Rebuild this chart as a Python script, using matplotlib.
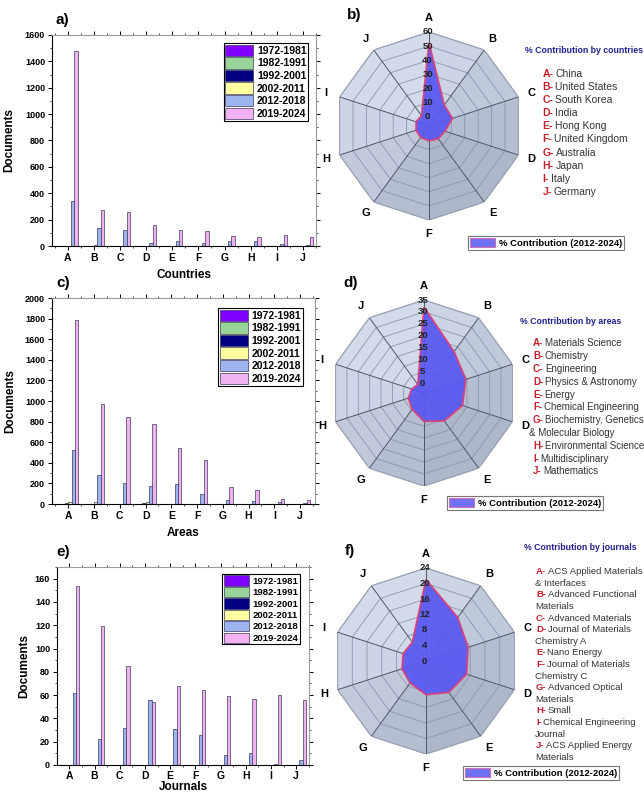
import numpy as np
import matplotlib.pyplot as plt
from matplotlib.patches import Patch
from matplotlib.ticker import MultipleLocator
from matplotlib.colors import to_rgb

plt.rcParams['font.family'] = ['Liberation Sans', 'DejaVu Sans']

W, H = 644, 793

letters = list("ABCDEFGHIJ")
periods = ["1972-1981", "1982-1991", "1992-2001", "2002-2011", "2012-2018", "2019-2024"]
period_colors = ["#8000ff", "#98d498", "#000080", "#ffffa0", "#9db4f0", "#f2b2f2"]

# a) documents per country (A..J) for each period
cty_1972 = [0, 0, 0, 0, 0, 0, 0, 0, 0, 0]
cty_1982 = [0, 0, 0, 0, 0, 0, 0, 0, 0, 0]
cty_1992 = [3, 3, 3, 0, 0, 2, 3, 2, 0, 2]
cty_2002 = [2, 10, 3, 3, 2, 3, 3, 3, 3, 3]
cty_2012 = [340, 135, 120, 25, 35, 25, 35, 40, 15, 10]
cty_2019 = [1480, 270, 255, 160, 118, 110, 78, 65, 85, 72]

# c) documents per subject area
area_1972 = [0, 0, 0, 0, 0, 0, 0, 0, 0, 0]
area_1982 = [0, 0, 0, 0, 0, 0, 0, 0, 0, 0]
area_1992 = [10, 0, 0, 10, 0, 0, 0, 0, 0, 0]
area_2002 = [15, 15, 2, 15, 0, 2, 3, 3, 3, 2]
area_2012 = [520, 280, 200, 170, 195, 95, 35, 25, 15, 10]
area_2019 = [1790, 975, 845, 775, 540, 425, 165, 135, 50, 35]

# e) documents per journal
jrn_1972 = [0, 0, 0, 0, 0, 0, 0, 0, 0, 0]
jrn_1982 = [0, 0, 0, 0, 0, 0, 0, 0, 0, 0]
jrn_1992 = [0, 0, 0, 0, 0, 0, 0, 0, 0, 0]
jrn_2002 = [0, 0, 0, 0, 0, 0, 0, 0, 0, 0]
jrn_2012 = [62, 22, 32, 56, 31, 26, 9, 10, 1, 4]
jrn_2019 = [154, 119, 85, 54, 68, 64, 59, 57, 60, 56]

# b), d), f) % contribution 2012-2024
cty_pct = [52.4, 11.7, 10.8, 5.3, 4.4, 3.9, 3.3, 3.0, 2.9, 2.4]
area_pct = [32, 17.5, 14.5, 13, 10.5, 8, 4.5, 3, 1.5, 0.5]
jrn_pct = [21, 13.9, 11.4, 11, 10, 8.7, 7, 6.5, 6.2, 6]

cty_names = ["China", "United States", "South Korea", "India", "Hong Kong",
             "United Kingdom", "Australia", "Japan", "Italy", "Germany"]
area_names = ["Materials Science", "Chemistry", "Engineering", "Physics & Astronomy",
              "Energy", "Chemical Engineering", "Biochemistry, Genetics\n& Molecular Biology",
              "Environmental Science", "Multidisciplinary", "Mathematics"]
jrn_names = ["ACS Applied Materials\n& Interfaces", "Advanced Functional\nMaterials",
             "Advanced Materials", "Journal of Materials\nChemistry A", "Nano Energy",
             "Journal of Materials\nChemistry C", "Advanced Optical\nMaterials", "Small",
             "Chemical Engineering\nJournal", "ACS Applied Energy\nMaterials"]

fig = plt.figure(figsize=(W / 100, H / 100), dpi=100)


def fx(x):
    return x / W


def fy(y):
    return 1 - y / H


def bar_panel(left, top, right, bottom, series, ymax, major, minor, xlim, xlabel,
              ylab_x, leg_anchor, leg_fs, tag, tag_xy, xlab_pad=4, xtick_pad=2):
    ax = fig.add_axes([fx(left), fy(bottom), fx(right - left), (bottom - top) / H])
    x = np.arange(len(letters))
    w = 0.13
    for i, (vals, lab, col) in enumerate(zip(series, periods, period_colors)):
        ax.bar(x + (i - 2.5) * w, vals, width=w, color=col, edgecolor="#3a3a5a",
               linewidth=0.5, label=lab)
    ax.set_xlim(*xlim)
    ax.set_ylim(0, ymax)
    ax.set_xticks(x)
    ax.set_xticklabels(letters, fontsize=7.5, fontweight="bold")
    ax.xaxis.set_minor_locator(MultipleLocator(0.5))
    ax.yaxis.set_major_locator(MultipleLocator(major))
    ax.yaxis.set_minor_locator(MultipleLocator(minor))
    for lbl in ax.get_yticklabels():
        lbl.set_fontsize(6.5)
        lbl.set_fontweight("bold")
    ax.tick_params(which="major", length=3, width=0.7, pad=2)
    ax.tick_params(axis="x", which="major", pad=xtick_pad)
    ax.tick_params(which="minor", length=1.5, width=0.5)
    ax.tick_params(top=True, right=True, which="both", direction="out")
    for s in ["top", "right"]:
        ax.spines[s].set_color("#9a9a9a")
    for s in ["left", "bottom"]:
        ax.spines[s].set_linewidth(0.8)
    ax.set_ylabel("Documents", fontsize=8.5, fontweight="bold")
    ax.yaxis.set_label_coords(ylab_x, 0.5)
    ax.set_xlabel(xlabel, fontsize=8.5, fontweight="bold", labelpad=xlab_pad)
    leg = ax.legend(loc="upper right", bbox_to_anchor=leg_anchor, fancybox=False,
                    edgecolor="black", framealpha=1, borderpad=0.15, labelspacing=0.12,
                    handlelength=2.7, handleheight=1.3, handletextpad=0.35,
                    borderaxespad=0, prop={"weight": "bold", "size": leg_fs})
    leg.get_frame().set_linewidth(0.8)
    fig.text(fx(tag_xy[0]), fy(tag_xy[1]), tag, fontsize=11, fontweight="bold",
             ha="left", va="center")
    return ax


bar_panel(52, 35, 316, 246, [cty_1972, cty_1982, cty_1992, cty_2002, cty_2012, cty_2019],
          1600, 200, 100, (-0.6, 9.5), "Countries", -0.14, (0.97, 0.962), 7.5, "a)", (56, 20))
bar_panel(52, 298, 315, 504, [area_1972, area_1982, area_1992, area_2002, area_2012, area_2019],
          2000, 200, 100, (-0.63, 9.58), "Areas", -0.137, (0.954, 0.951), 7.5, "c)", (56, 283))
bar_panel(57, 567, 309, 765, [jrn_1972, jrn_1982, jrn_1992, jrn_2002, jrn_2012, jrn_2019],
          170, 20, 10, (-0.49, 9.51), "Journals", -0.107, (0.964, 0.965), 6.8, "e)", (56, 552),
          xlab_pad=0, xtick_pad=1)

light = np.array(to_rgb("#d4dcec"))
dark = np.array(to_rgb("#adb6c9"))


def radar_panel(cx, cy, R, pct, rmin, rmax, ring_vals, tag, header, header_xy, names,
                item_x, item_y, step, cont_x, list_fs, leg_xy):
    ax = fig.add_axes([fx(cx - R), fy(cy + R), 2 * R / W, 2 * R / H], projection="polar")
    ax.set_theta_zero_location("N")
    ax.set_theta_direction(-1)
    ax.set_ylim(rmin, rmax)
    ax.set_axis_off()
    n = len(letters)
    ang = np.linspace(0, 2 * np.pi, n + 1)

    # shaded facets of the decagon
    for k in range(n):
        mid = (ang[k] + ang[k + 1]) / 2
        t = (np.dot([np.sin(mid), np.cos(mid)], [-0.6, 0.8]) + 1) / 2
        col = dark + (light - dark) * t
        ax.fill([ang[k], ang[k], ang[k + 1]], [rmin, rmax, rmax], color=col,
                linewidth=0, zorder=1)
    for v in ring_vals:
        ax.plot(ang, [v] * (n + 1), color="#8e97aa", lw=0.6, zorder=2)
    ax.plot(ang, [rmax] * (n + 1), color="#9aa3b6", lw=0.8, zorder=2)
    for a in ang[:-1]:
        ax.plot([a, a], [rmin, rmax], color="#4e5566", lw=0.7, zorder=2)

    vals = list(pct) + [pct[0]]
    ax.fill(ang, vals, facecolor="#5a5af2", edgecolor="#d8407c", lw=1.3,
            alpha=0.95, zorder=3)

    for v in ring_vals:
        ax.annotate(str(v), xy=(0, v), xytext=(-1, 0), textcoords="offset points",
                    ha="center", va="center", fontsize=6.8, fontweight="bold",
                    color="#222222", zorder=5)
    r_lab = rmin + 1.15 * (rmax - rmin)
    for a, l in zip(ang[:-1], letters):
        ax.text(a, r_lab, l, ha="center", va="center", fontsize=8, fontweight="bold")

    fig.text(fx(cx - R + 12), fy(cy - R - 10), tag, fontsize=11, fontweight="bold",
             ha="left", va="bottom")
    fig.text(fx(header_xy[0]), fy(header_xy[1]), header, fontsize=6.3, fontweight="bold",
             color="#1f1f8f", ha="left", va="center")

    y = item_y
    for l, name in zip(letters, names):
        parts = name.split("\n")
        t = fig.text(fx(item_x), fy(y), l + "-", fontsize=list_fs, fontweight="bold",
                     color="#c8202c", ha="left", va="center")
        ax.annotate(parts[0], xy=(1, 0.5), xycoords=t, xytext=(1.2, 0),
                    textcoords="offset points", ha="left", va="center",
                    fontsize=list_fs, color="#333333", annotation_clip=False)
        y += step
        for extra in parts[1:]:
            fig.text(fx(cont_x), fy(y), extra, fontsize=list_fs, color="#333333",
                     ha="left", va="center")
            y += step

    leg = fig.legend(handles=[Patch(facecolor="#7070f2", edgecolor="#d070b0", lw=0.8)],
                     labels=["% Contribution (2012-2024)"], loc="lower left",
                     bbox_to_anchor=(fx(leg_xy[0]), fy(leg_xy[1])), fancybox=False,
                     edgecolor="#777777", framealpha=1, borderpad=0.25,
                     handlelength=2.6, handleheight=1.1, handletextpad=0.4,
                     borderaxespad=0, prop={"weight": "bold", "size": 6.8})
    leg.get_frame().set_linewidth(0.8)
    return ax


radar_panel(429, 126, 94, cty_pct, -6.67, 60, [0, 10, 20, 30, 40, 50, 60], "b)",
            "% Contribution by countries", (525, 50.7), cty_names, 542.7, 74, 13.1,
            534, 7.5, (468, 250))
radar_panel(424, 393, 93, area_pct, -3.89, 35, [0, 5, 10, 15, 20, 25, 30, 35], "d)",
            "% Contribution by areas", (520, 321), area_names, 533, 343.3, 12.8,
            529, 7, (447, 510))
radar_panel(426, 661, 93, jrn_pct, 0, 24, [0, 4, 8, 12, 16, 20, 24], "f)",
            "% Contribution by journals", (524, 548), jrn_names, 536, 571.7, 11.6,
            535, 6.8, (463, 780))

fig.savefig("out.png", dpi=100)
